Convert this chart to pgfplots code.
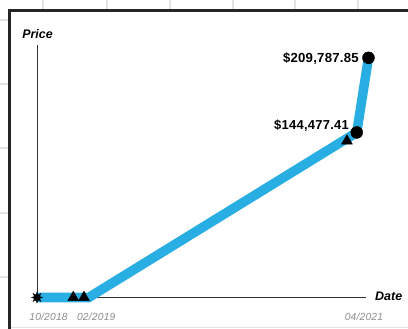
\documentclass[border=0pt]{standalone}
\usepackage{fontspec}
\setmainfont{Liberation Sans}
\newfontfamily\valfont[LetterSpace=2]{Liberation Sans}
\usepackage{pgfplots}
\pgfplotsset{compat=1.18}
\definecolor{lineblue}{RGB}{41,174,228}
\definecolor{gridgray}{RGB}{226,226,226}
\definecolor{ticklab}{RGB}{140,140,140}
% filled eight-point burst for the start point
\pgfdeclareplotmark{burst}{%
  \pgfpathmoveto{\pgfpointpolar{90}{\pgfplotmarksize}}%
  \pgfpathlineto{\pgfpointpolar{112.5}{0.5\pgfplotmarksize}}%
  \pgfpathlineto{\pgfpointpolar{135}{\pgfplotmarksize}}%
  \pgfpathlineto{\pgfpointpolar{157.5}{0.5\pgfplotmarksize}}%
  \pgfpathlineto{\pgfpointpolar{180}{\pgfplotmarksize}}%
  \pgfpathlineto{\pgfpointpolar{202.5}{0.5\pgfplotmarksize}}%
  \pgfpathlineto{\pgfpointpolar{225}{\pgfplotmarksize}}%
  \pgfpathlineto{\pgfpointpolar{247.5}{0.5\pgfplotmarksize}}%
  \pgfpathlineto{\pgfpointpolar{270}{\pgfplotmarksize}}%
  \pgfpathlineto{\pgfpointpolar{292.5}{0.5\pgfplotmarksize}}%
  \pgfpathlineto{\pgfpointpolar{315}{\pgfplotmarksize}}%
  \pgfpathlineto{\pgfpointpolar{337.5}{0.5\pgfplotmarksize}}%
  \pgfpathlineto{\pgfpointpolar{0}{\pgfplotmarksize}}%
  \pgfpathlineto{\pgfpointpolar{22.5}{0.5\pgfplotmarksize}}%
  \pgfpathlineto{\pgfpointpolar{45}{\pgfplotmarksize}}%
  \pgfpathlineto{\pgfpointpolar{67.5}{0.5\pgfplotmarksize}}%
  \pgfpathclose
  \pgfusepathqfillstroke
}
\begin{document}
\begin{tikzpicture}[x=1bp,y=1bp]
\path[use as bounding box] (0,0) rectangle (408,329);
\clip (0,0) rectangle (408,329);
% page grid behind the card
\foreach \gx in {43,107,170,233,295,358} \draw[gridgray, line width=1.5bp] (\gx,0) -- (\gx,329);
\foreach \gy in {20,84,148,213,277} \draw[gridgray, line width=1.5bp] (0,{329-\gy}) -- (408,{329-\gy});
% card
\draw[black!85, line width=2.5bp, fill=white] (9.5,-20) rectangle (440,318.5);
\draw[gridgray, line width=1bp] (11,1.8) -- (408,1.8);

\begin{axis}[
    at={(37bp,31.5bp)}, anchor=south west,
    width=329bp, height=252.5bp, scale only axis,
    xmin=0, xmax=30.55, ymin=0, ymax=221000,
    axis x line=bottom, axis y line=left,
    axis line style={-, black!80, line width=0.8bp},
    ytick=\empty,
    xtick={1.07,5.5,30.36},
    xticklabels={10/2018,02/2019,04/2021},
    major tick length=0pt,
    xticklabel style={anchor=center, yshift=-19.8bp, text=ticklab,
        font=\valfont\itshape\fontsize{10.3}{12}\selectfont},
    clip=false,
]
% months since 10/2018, price in USD
\addplot[lineblue, line width=9.5bp, line join=miter, line cap=butt] coordinates {
    (0,0) (4.8,0) (29.69,144477.41) (30.78,209787.85)
};
\addplot[only marks, mark=burst, mark size=5.5bp, black] coordinates {(0,0)};
\addplot[only marks, mark=triangle*, mark size=6.3bp, black] coordinates {
    (3.37,0) (4.36,0) (28.78,137000)
};
\addplot[only marks, mark=*, mark size=6bp, black] coordinates {
    (29.69,144477.41) (30.78,209787.85)
};
\node[anchor=base east, inner sep=0, font=\valfont\bfseries\fontsize{13.2}{15}\selectfont]
    at ([xshift=-9.5bp,yshift=-4.5bp]axis cs:30.78,209787.85) {\$209,787.85};
\node[anchor=base east, inner sep=0, font=\valfont\bfseries\fontsize{13}{15}\selectfont]
    at ([xshift=-7.7bp,yshift=2.5bp]axis cs:29.69,144477.41) {\$144,477.41};
\end{axis}
\node[font=\bfseries\itshape\fontsize{12.5}{14}\selectfont] at (37.5,294.5) {Price};
\node[anchor=west, inner sep=0, font=\bfseries\itshape\fontsize{12.5}{14}\selectfont] at (375,32.3) {Date};
\end{tikzpicture}
\end{document}
